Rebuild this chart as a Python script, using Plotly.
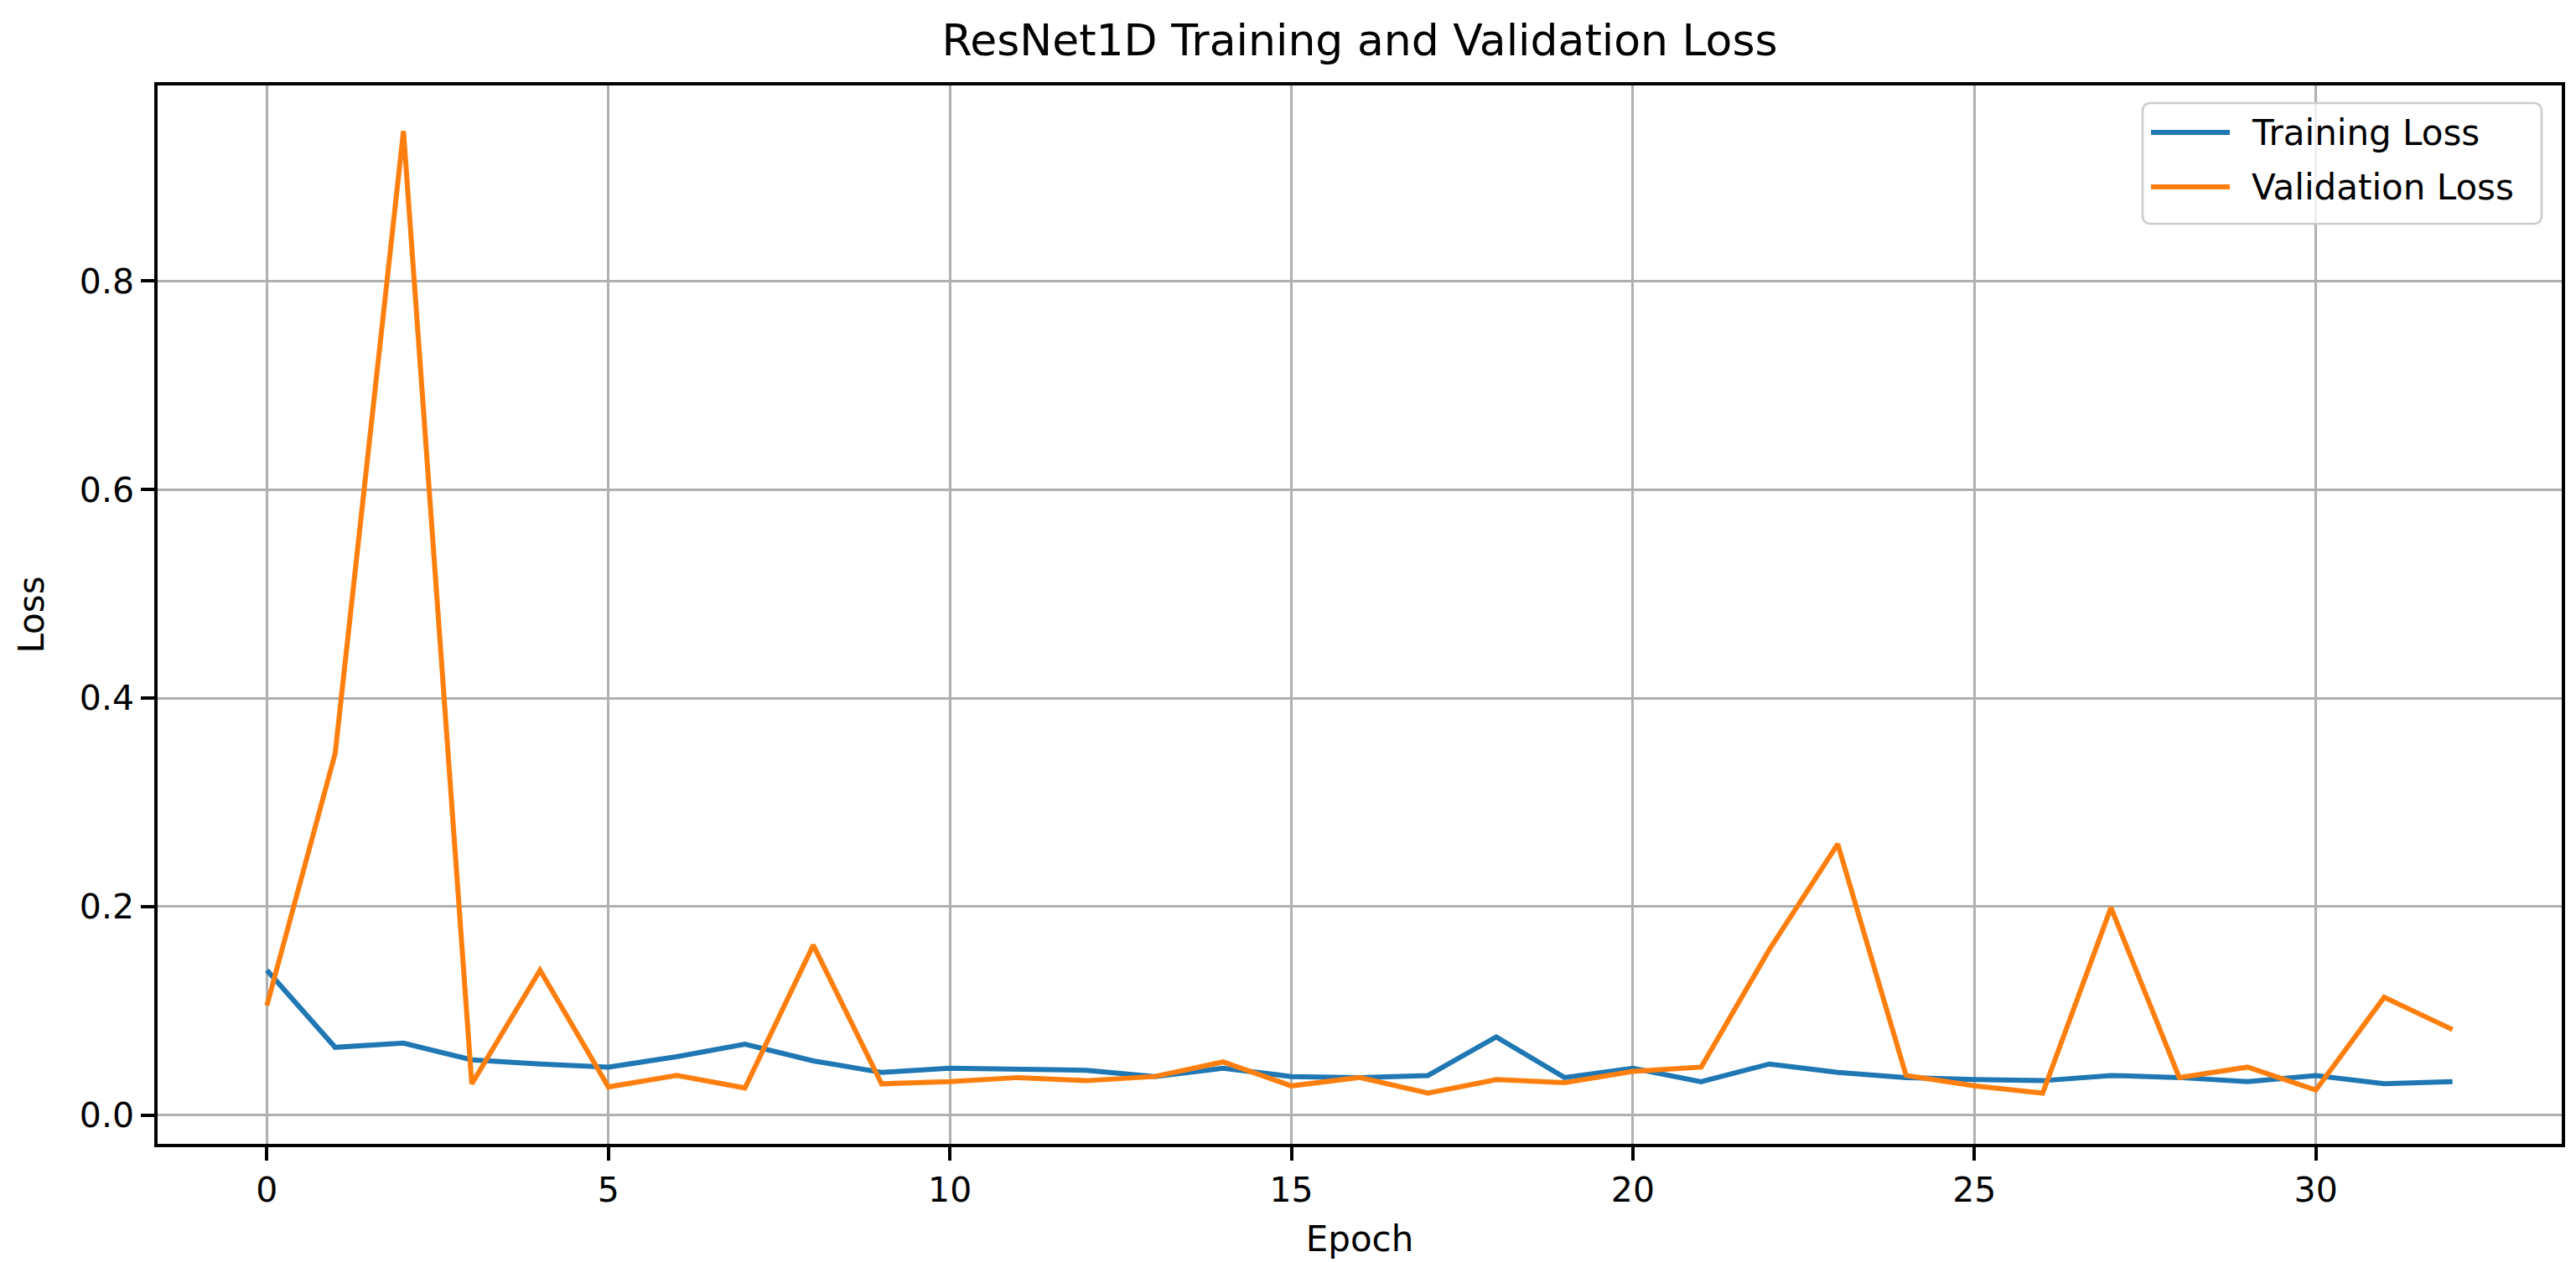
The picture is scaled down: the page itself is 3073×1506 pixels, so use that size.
import plotly.graph_objects as go

epochs = list(range(33))
train_loss = [0.139, 0.065, 0.069, 0.053, 0.049, 0.046, 0.056, 0.068, 0.052, 0.041,
              0.045, 0.044, 0.043, 0.037, 0.045, 0.037, 0.036, 0.038, 0.075, 0.036,
              0.045, 0.032, 0.049, 0.041, 0.036, 0.034, 0.033, 0.038, 0.036, 0.032,
              0.038, 0.030, 0.032]
val_loss = [0.105, 0.347, 0.944, 0.030, 0.139, 0.027, 0.038, 0.026, 0.163, 0.030,
            0.032, 0.036, 0.033, 0.037, 0.051, 0.028, 0.036, 0.021, 0.034, 0.031,
            0.042, 0.046, 0.159, 0.260, 0.038, 0.028, 0.021, 0.199, 0.036, 0.046,
            0.024, 0.113, 0.082]
series_names = ["Training Loss", "Validation Loss"]
series_colors = ["#1f77b4", "#ff7f0e"]
x_ticks = [0, 5, 10, 15, 20, 25, 30]
y_ticks = [0.0, 0.2, 0.4, 0.6, 0.8]

FONT = "DejaVu Sans"
W, H = 3073, 1506
L, R, T, B = 180, 25, 94, 149
PW, PH = W - L - R, H - T - B

def px(x):
    return (x - L) / PW

def py(y):
    return (H - B - y) / PH

fig = go.Figure()
for name, vals, col in zip(series_names, [train_loss, val_loss], series_colors):
    fig.add_trace(go.Scatter(x=epochs, y=vals, mode="lines", name=name,
                             line=dict(color=col, width=6), showlegend=False))

axis_common = dict(showgrid=True, gridcolor="#b0b0b0", gridwidth=2.5,
                   showline=True, linecolor="black", linewidth=3.5, mirror=True,
                   ticks="outside", ticklen=16, tickwidth=3.5, tickcolor="black",
                   zeroline=False, tickfont=dict(family=FONT, size=41, color="black"))

# matplotlib-style legend box (rounded) in paper coords
x0, x1, y0, y1, r = 2548, 3024, 115, 259, 10
rx, ry = r / PW, r / PH
X0, X1, Y0, Y1 = px(x0), px(x1), py(y1), py(y0)
path = (f"M {X0+rx},{Y0} L {X1-rx},{Y0} Q {X1},{Y0} {X1},{Y0+ry} "
        f"L {X1},{Y1-ry} Q {X1},{Y1} {X1-rx},{Y1} L {X0+rx},{Y1} "
        f"Q {X0},{Y1} {X0},{Y1-ry} L {X0},{Y0+ry} Q {X0},{Y0} {X0+rx},{Y0} Z")
shapes = [dict(type="path", path=path, xref="paper", yref="paper",
               fillcolor="rgba(255,255,255,0.8)", line=dict(color="#cccccc", width=2.5),
               layer="above")]
annotations = []
for i, (name, col) in enumerate(zip(series_names, series_colors)):
    yy = 150 + i * 65
    shapes.append(dict(type="line", xref="paper", yref="paper",
                       x0=px(2558), x1=px(2652), y0=py(yy), y1=py(yy),
                       line=dict(color=col, width=6), layer="above"))
    annotations.append(dict(text=name, xref="paper", yref="paper", x=px(2676), y=py(yy),
                            xanchor="left", yanchor="middle", showarrow=False,
                            font=dict(family=FONT, size=42, color="black")))

fig.update_layout(
    width=W, height=H,
    margin=dict(l=L, r=R, t=T, b=B),
    paper_bgcolor="white", plot_bgcolor="white",
    font=dict(family=FONT, color="black"),
    title=dict(text="ResNet1D Training and Validation Loss", x=0.5, xref="paper",
               y=1 - 40 / H, yref="container", yanchor="middle", xanchor="center",
               font=dict(family=FONT, size=52, color="black")),
    xaxis=dict(range=[-1.6, 33.6], tickvals=x_ticks,
               title=dict(text="Epoch", font=dict(family=FONT, size=42), standoff=22),
               **axis_common),
    yaxis=dict(range=[-0.0276, 0.9877], tickvals=y_ticks, tickformat=".1f",
               title=dict(text="Loss", font=dict(family=FONT, size=42), standoff=30),
               **axis_common),
    shapes=shapes,
    annotations=annotations,
    showlegend=False,
)

fig.write_html("out.html")
